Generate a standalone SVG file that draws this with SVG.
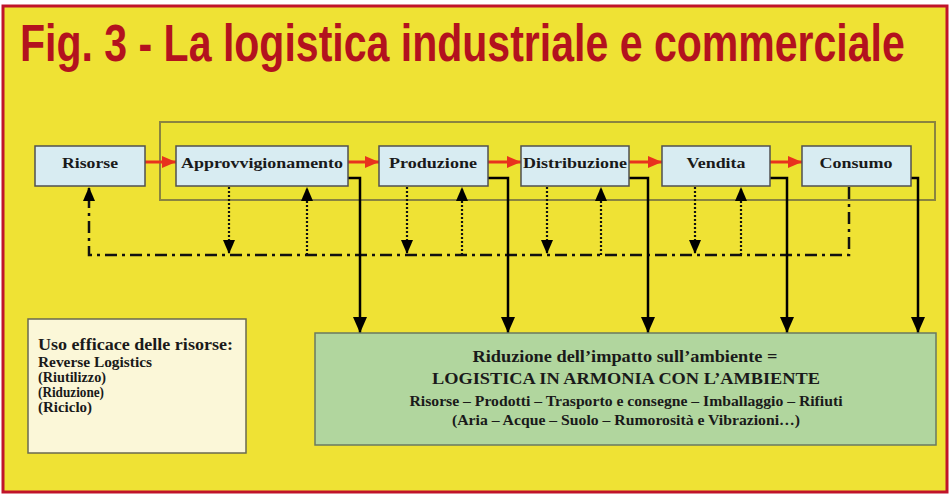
<svg xmlns="http://www.w3.org/2000/svg" width="952" height="495" viewBox="0 0 952 495">
<defs>
<style>
.box{fill:#d8ecf2;stroke:#505050;stroke-width:1.5}
.lbl{font-family:"Liberation Serif",serif;font-weight:bold;font-size:15.5px;fill:#1a1a1a;text-anchor:middle}
.red{stroke:#e8321e;stroke-width:3;fill:none}
.dot{stroke:#111;stroke-width:2.2;stroke-dasharray:2,2;fill:none}
.dd{stroke:#111;stroke-width:2.5;stroke-dasharray:12,5,3,5;fill:none}
.sol{stroke:#000;stroke-width:2.5;fill:none}
.gt{font-family:"Liberation Serif",serif;font-weight:bold;fill:#1a1a1a;text-anchor:middle}
.ct{font-family:"Liberation Serif",serif;font-weight:bold;fill:#1a1a1a}
</style>
<marker id="ar" markerUnits="userSpaceOnUse" markerWidth="14" markerHeight="14" viewBox="0 0 14 14" refX="14" refY="7" orient="auto"><path d="M0,1 L14,7 L0,13 Z" fill="#e8321e"/></marker>
<marker id="ab" markerUnits="userSpaceOnUse" markerWidth="14" markerHeight="12" viewBox="0 0 14 12" refX="14" refY="6" orient="auto"><path d="M0,0 L14,6 L0,12 Z" fill="#000"/></marker>
<marker id="as" markerUnits="userSpaceOnUse" markerWidth="16" markerHeight="14" viewBox="0 0 16 14" refX="16" refY="7" orient="auto"><path d="M0,0 L16,7 L0,14 Z" fill="#000"/></marker>
</defs>
<rect x="3" y="6" width="944" height="486" fill="#efe234" stroke="#c0142a" stroke-width="3"/>
<text transform="scale(0.7,1)" x="28.57" y="61" font-family="'Liberation Sans',Arial,sans-serif" font-weight="bold" font-size="51" fill="#b3121e" textLength="1264" lengthAdjust="spacingAndGlyphs">Fig. 3 - La logistica industriale e commerciale</text>
<rect x="160" y="122" width="775" height="78" fill="#ece332" stroke="#8a8440" stroke-width="2"/>
<g id="connectors">
<path class="red" d="M145,162 H176" marker-end="url(#ar)"/>
<path class="red" d="M348,162 H379" marker-end="url(#ar)"/>
<path class="red" d="M488,162 H521" marker-end="url(#ar)"/>
<path class="red" d="M629,162 H662" marker-end="url(#ar)"/>
<path class="red" d="M770,162 H802" marker-end="url(#ar)"/>
<path class="dot" d="M229,187 V254" marker-end="url(#ab)"/>
<path class="dot" d="M307,255 V187" marker-end="url(#ab)"/>
<path class="dot" d="M407,187 V254" marker-end="url(#ab)"/>
<path class="dot" d="M462,255 V187" marker-end="url(#ab)"/>
<path class="dot" d="M547,187 V254" marker-end="url(#ab)"/>
<path class="dot" d="M601,255 V187" marker-end="url(#ab)"/>
<path class="dot" d="M695,187 V254" marker-end="url(#ab)"/>
<path class="dot" d="M741,255 V187" marker-end="url(#ab)"/>
<path class="dd" d="M849,187 V255 H89 V187" marker-end="url(#ab)"/>
<path class="sol" d="M348,178 H360 V333" marker-end="url(#as)"/>
<path class="sol" d="M488,178 H508 V333" marker-end="url(#as)"/>
<path class="sol" d="M629,178 H648 V333" marker-end="url(#as)"/>
<path class="sol" d="M770,178 H787 V333" marker-end="url(#as)"/>
<path class="sol" d="M911,178 H918 V333" marker-end="url(#as)"/>
</g>
<g id="risorse"><rect class="box" x="35" y="146" width="110" height="40"/><text class="lbl" x="90" y="168" textLength="56" lengthAdjust="spacingAndGlyphs">Risorse</text></g>
<g id="approvvigionamento"><rect class="box" x="176" y="146" width="172" height="40"/><text class="lbl" x="262" y="168" textLength="162" lengthAdjust="spacingAndGlyphs">Approvvigionamento</text></g>
<g id="produzione"><rect class="box" x="379" y="146" width="109" height="40"/><text class="lbl" x="433" y="168" textLength="88" lengthAdjust="spacingAndGlyphs">Produzione</text></g>
<g id="distribuzione"><rect class="box" x="521" y="146" width="108" height="40"/><text class="lbl" x="575" y="168" textLength="104" lengthAdjust="spacingAndGlyphs">Distribuzione</text></g>
<g id="vendita"><rect class="box" x="662" y="146" width="108" height="40"/><text class="lbl" x="716" y="168" textLength="59" lengthAdjust="spacingAndGlyphs">Vendita</text></g>
<g id="consumo"><rect class="box" x="802" y="146" width="109" height="40"/><text class="lbl" x="856" y="168" textLength="73" lengthAdjust="spacingAndGlyphs">Consumo</text></g>
<g id="ambiente">
<rect x="315" y="333" width="621" height="112" fill="#b1d69e" stroke="#6a7a60" stroke-width="1.5"/>
<text class="gt" x="625" y="362" font-size="16.5" textLength="305" lengthAdjust="spacingAndGlyphs">Riduzione dell’impatto sull’ambiente =</text>
<text class="gt" x="626" y="384" font-size="17" textLength="388" lengthAdjust="spacingAndGlyphs">LOGISTICA IN ARMONIA CON L’AMBIENTE</text>
<text class="gt" x="626" y="406" font-size="14.5" textLength="433" lengthAdjust="spacingAndGlyphs">Risorse – Prodotti – Trasporto e consegne – Imballaggio – Rifiuti</text>
<text class="gt" x="626" y="425" font-size="14.5" textLength="348" lengthAdjust="spacingAndGlyphs">(Aria – Acque – Suolo – Rumorosità e Vibrazioni…)</text>
</g>
<g id="risorse-uso">
<rect x="28" y="319" width="218" height="134" fill="#fbf7d8" stroke="#6a6a50" stroke-width="1.5"/>
<text class="ct" x="38" y="350" font-size="16" textLength="195" lengthAdjust="spacingAndGlyphs">Uso efficace delle risorse:</text>
<text class="ct" x="38" y="367" font-size="14.5" textLength="114" lengthAdjust="spacingAndGlyphs">Reverse Logistics</text>
<text class="ct" x="38" y="382" font-size="14.5" textLength="68" lengthAdjust="spacingAndGlyphs">(Riutilizzo)</text>
<text class="ct" x="38" y="397" font-size="14.5" textLength="66" lengthAdjust="spacingAndGlyphs">(Riduzione)</text>
<text class="ct" x="38" y="412" font-size="14.5" textLength="54" lengthAdjust="spacingAndGlyphs">(Riciclo)</text>
</g>
</svg>
